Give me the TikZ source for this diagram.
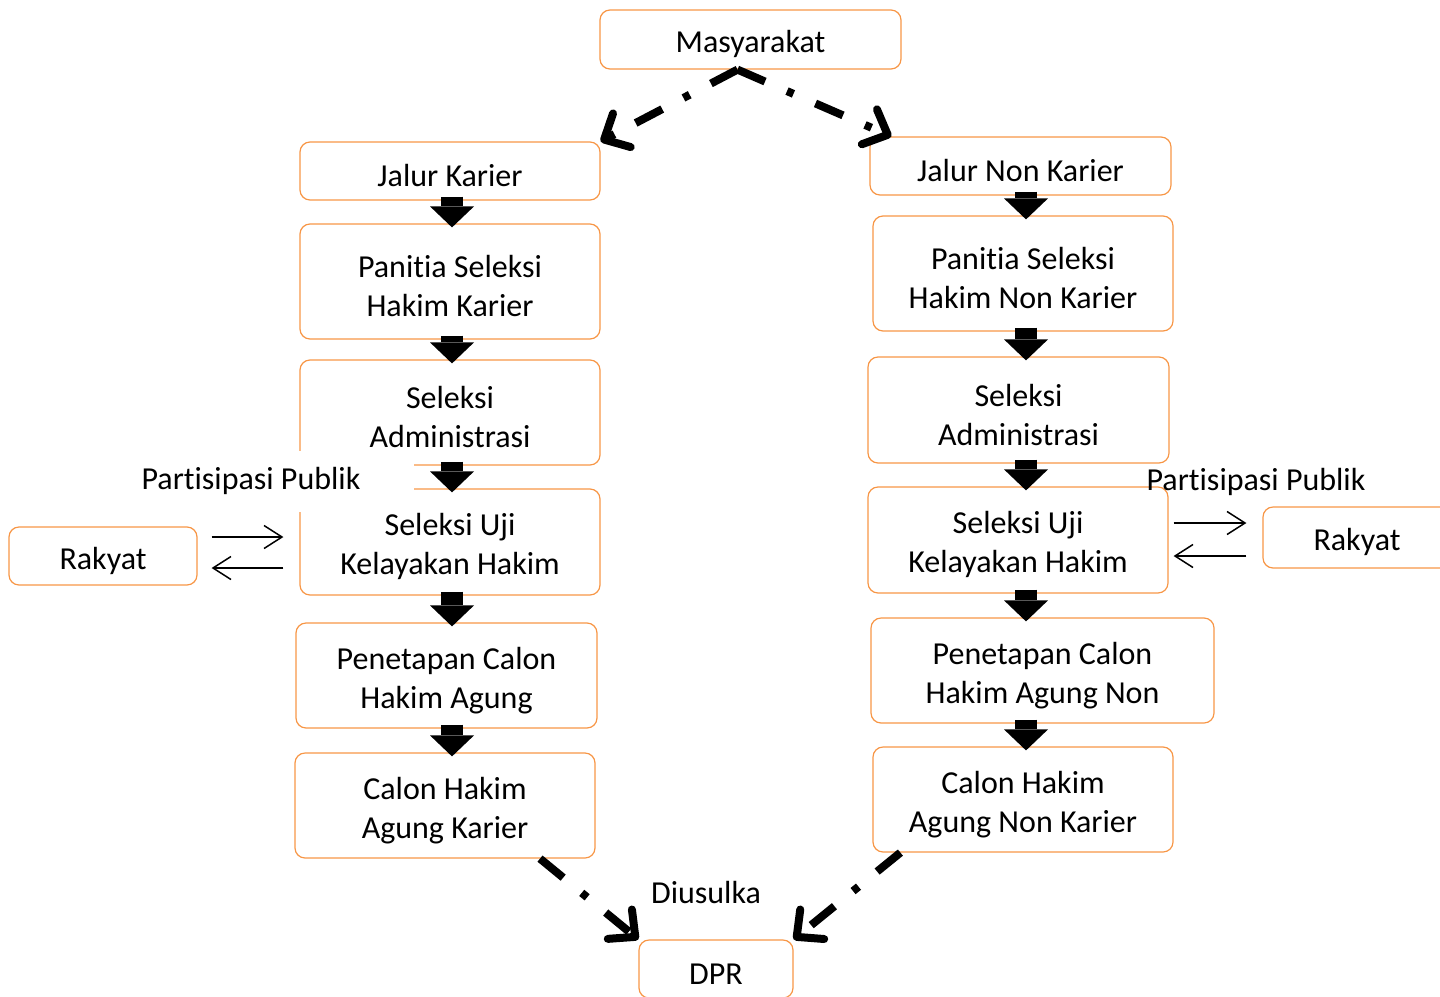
\documentclass[tikz,border=0pt]{standalone}
\usepackage{fontspec}
\setmainfont{Carlito}[Ligatures=NoCommon,RawFeature={-liga;-clig;-calt;-dlig}]
\usetikzlibrary{arrows.meta,calc}
\definecolor{boxline}{RGB}{247,150,70}
\newcommand{\boxstrut}{\rule{0pt}{15.8pt}}

\begin{document}
\begin{tikzpicture}[x=0.5pt,y=-0.5pt]
\tikzset{
box node/.style={draw=boxline,line width=0.6pt,rounded corners=5pt,align=center,inner sep=0pt,minimum width=150pt,minimum height=52.5pt,font=\fontsize{16}{19.5}\selectfont},
flat node/.style={box node,minimum height=29pt},
text node/.style={align=center,inner sep=0pt,font=\fontsize{16}{19.5}\selectfont},
block arrow/.style={line width=11pt,-{Triangle[width=22pt,length=10.5pt,line width=0pt]},shorten <=-2pt,shorten >=-2pt},
dash arrow/.style={line width=4pt,dash pattern=on 15pt off 12pt on 3.5pt off 12pt,-{Straight Barb[round,length=10pt,width=19pt]}},
thin arrow/.style={line width=0.75pt,-{Straight Barb[length=9pt,width=11.5pt]}}
}
\useasboundingbox (0,0) rectangle (1440,996);
\clip (0,0) rectangle (1440,996);

\coordinate (lcol) at (452,0);
\coordinate (rcol) at (1026,0);

\node[flat node,minimum width=150.5pt,minimum height=29.5pt] (mas) at (750.5,39.5) {\boxstrut Masyarakat};

% jalur karier
\node[flat node] (jk) at (450,171) {\boxstrut Jalur Karier};
\node[box node,minimum height=57.5pt] (psk) at (450,281.5) {\boxstrut Panitia Seleksi\\Hakim Karier};
\node[box node] (sa1) at (450,412.5) {\boxstrut Seleksi\\Administrasi};
\node[box node,minimum height=53pt] (su1) at (450,542) {\boxstrut Seleksi Uji\\Kelayakan Hakim};
\node[box node,minimum width=150.5pt] (pen1) at (446.5,675.5) {\boxstrut Penetapan Calon\\Hakim Agung};
\node[box node] (chak) at (445,805.5) {\boxstrut Calon Hakim\\Agung Karier};

% jalur non karier
\node[flat node,minimum width=150.5pt] (jnk) at (1020.5,166) {\boxstrut Jalur Non Karier};
\node[box node,minimum height=57.5pt] (psnk) at (1023,273.5) {\boxstrut Panitia Seleksi\\Hakim Non Karier};
\node[box node,minimum width=150.5pt,minimum height=53pt] (sa2) at (1018.5,410) {\boxstrut Seleksi\\Administrasi};
\node[box node,minimum height=53pt] (su2) at (1018,540) {\boxstrut Seleksi Uji\\Kelayakan Hakim};
\node[box node,minimum width=171.5pt] (pen2) at (1042.5,670.5) {\boxstrut Penetapan Calon\\Hakim Agung Non};
\node[box node] (chank) at (1023,799.5) {\boxstrut Calon Hakim\\Agung Non Karier};

\node[flat node,minimum width=94pt] (rk1) at (103,556) {\boxstrut Rakyat};
\node[flat node,minimum width=94pt,minimum height=30.5pt] (rk2) at (1357,537.5) {\boxstrut Rakyat};
\node[flat node,minimum width=77pt] (dpr) at (716,969) {\boxstrut DPR};

\node[text node,fill=white,minimum width=163pt,minimum height=30.5pt] (pp1) at (251,481) {Partisipasi Publik};
\node[text node] (pp2) at (1256,482) {Partisipasi Publik};
\node[text node] (usul) at (706,892) {Diusulka};

\draw[block arrow] (jk.south -| lcol) -- (psk.north -| lcol);
\draw[block arrow] (psk.south -| lcol) -- (sa1.north -| lcol);
\draw[block arrow] (sa1.south -| lcol) -- (su1.north -| lcol);
\draw[block arrow] (su1.south -| lcol) -- (pen1.north -| lcol);
\draw[block arrow] (pen1.south -| lcol) -- (chak.north -| lcol);

\draw[block arrow] (jnk.south -| rcol) -- (psnk.north -| rcol);
\draw[block arrow] (psnk.south -| rcol) -- (sa2.north -| rcol);
\draw[block arrow] (sa2.south -| rcol) -- (su2.north -| rcol);
\draw[block arrow] (su2.south -| rcol) -- (pen2.north -| rcol);
\draw[block arrow] (pen2.south -| rcol) -- (chank.north -| rcol);

\draw[dash arrow] ([xshift=-6.5pt]mas.south) -- (jk.north east);
\draw[dash arrow] ([xshift=-6.5pt]mas.south) -- ([xshift=11pt]jnk.north west);
\draw[dash arrow] ([xshift=47.5pt]chak.south) -- (dpr.north west);
\draw[dash arrow] ([xshift=14pt]chank.south west) -- (dpr.north east);

\draw[thin arrow,shorten <=7pt,shorten >=8pt] ($(rk1.east)+(0,-19)$) -- ($(rk1.east -| su1.west)+(0,-19)$);
\draw[thin arrow,shorten <=8pt,shorten >=7pt] ($(rk1.east -| su1.west)+(0,12)$) -- ($(rk1.east)+(0,12)$);
\draw[thin arrow,shorten <=2.5pt,shorten >=8pt] ($(su2.east)+(0,-17)$) -- ($(su2.east -| rk2.west)+(0,-17)$);
\draw[thin arrow,shorten <=8pt,shorten >=2.5pt] ($(su2.east -| rk2.west)+(0,16)$) -- ($(su2.east)+(0,16)$);
\end{tikzpicture}
\end{document}
